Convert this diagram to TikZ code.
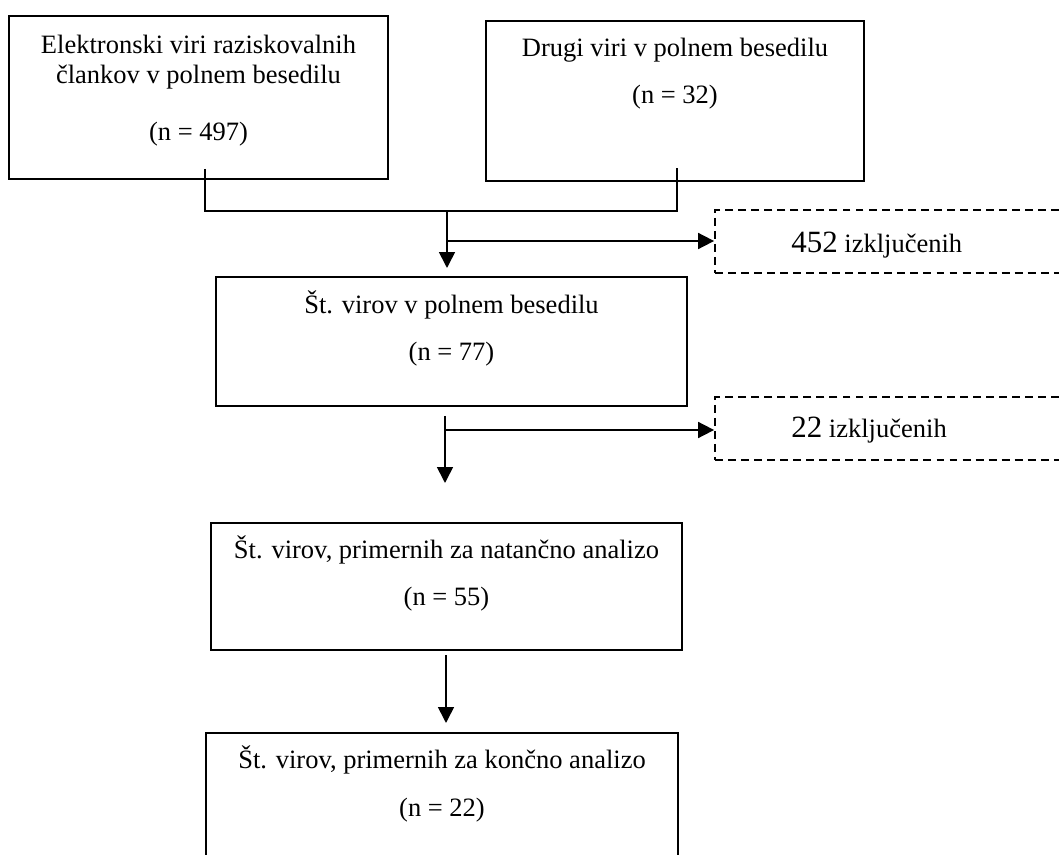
\documentclass[tikz,border=0pt]{standalone}
\usepackage{fontspec}
\setmainfont{Liberation Serif}
\usetikzlibrary{arrows.meta,fit}
\begin{document}
\begin{tikzpicture}[x=0.4528pt,y=-0.4528pt,
  box/.style={draw, line width=0.8pt, inner sep=0pt},
  dbox/.style={draw, line width=0.8pt, dash pattern=on 3.6pt off 2.3pt, inner sep=0pt},
  txt/.style={anchor=base, inner sep=0pt, font=\fontsize{12}{14}\selectfont},
  ltxt/.style={anchor=base west, inner sep=0pt, font=\fontsize{12}{14}\selectfont},
  conn/.style={line width=0.75pt},
  arr/.style={conn, -{Triangle[length=7.2pt,width=7.2pt]}}]
\clip (0,0) rectangle (1059,855);
\fill[white] (0,0) rectangle (1059,855);
% boxes
\node[box, fit={(9,16) (388,179)}] (b1) {};
\node[box, fit={(486,21) (864,181)}] (b2) {};
\node[box, fit={(216,277) (687,406)}] (b3) {};
\node[box, fit={(211,523) (682,650)}] (b4) {};
\node[box, fit={(206,733) (678,900)}] (b5) {};
\node[dbox, fit={(715,210) (1090,273)}] (d1) {};
\node[dbox, fit={(715,397) (1090,460)}] (d2) {};
% texts
\node[txt] (t1a) at (198.5,54) {Elektronski viri raziskovalnih};
\node[txt] (t1b) at (198.5,84) {člankov v polnem besedilu};
\node[txt] (t1c) at (198.5,141) {(n = 497)};
\node[txt] (t2a) at (675,57) {Drugi viri v polnem besedilu};
\node[txt] (t2b) at (675,104) {(n = 32)};
\node[txt] (t3a) at (451.5,314) {Št. virov v polnem besedilu};
\node[txt] (t3b) at (451.5,361) {(n = 77)};
\node[txt] (t4a) at (446.5,558) {Št. virov, primernih za natančno analizo};
\node[txt] (t4b) at (446.5,605) {(n = 55)};
\node[txt] (t5a) at (442,768) {Št. virov, primernih za končno analizo};
\node[txt] (t5b) at (442,816) {(n = 22)};
\node[ltxt] (e1) at (791,253) {{\fontsize{14}{16}\selectfont 452} izključenih};
\node[ltxt] (e2) at (791,438) {{\fontsize{14}{16}\selectfont 22} izključenih};
% connector points
\coordinate (s1) at (205,169);
\coordinate (s2) at (677,168);
\coordinate (j1) at (205,211);
\coordinate (j2) at (677,211);
\coordinate (m1) at (447,211);
\coordinate (m2) at (447,241);
\coordinate (m3) at (447,268);
\coordinate (n1) at (445,416);
\coordinate (n2) at (445,430);
\coordinate (n3) at (445,483);
\coordinate (p1) at (446,655);
\coordinate (p2) at (446,723);
% connectors
\draw[conn] (s1) -- (j1) -- (j2) -- (s2);
\draw[arr] (m1) -- (m3);
\draw[arr] (m2) -- (m2 -| d1.west);
\draw[arr] (n1) -- (n3);
\draw[arr] (n2) -- (n2 -| d2.west);
\draw[arr] (p1) -- (p2);
\end{tikzpicture}
\end{document}
